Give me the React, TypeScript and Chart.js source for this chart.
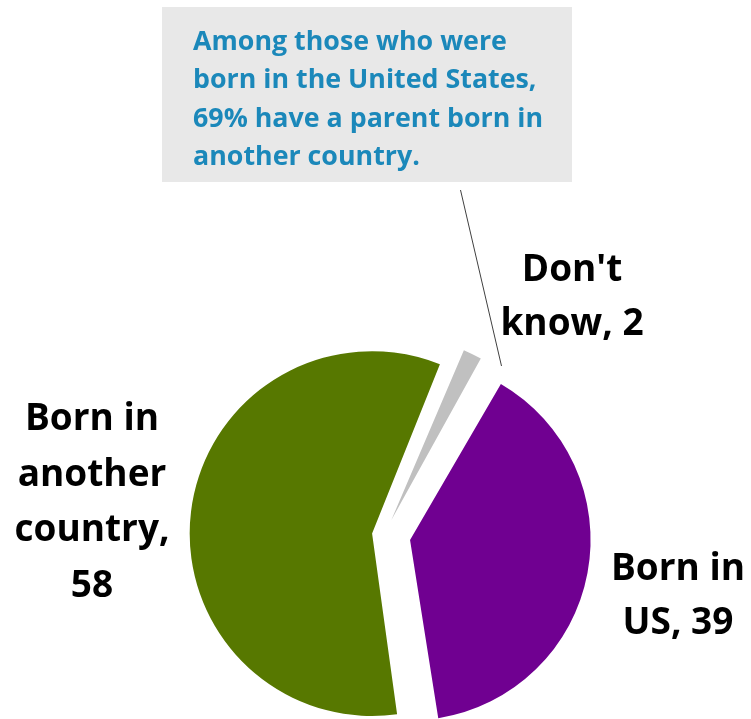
import React, { useEffect, useRef } from "react";
import { Chart, registerables } from "chart.js";

Chart.register(...registerables);

const categories = ["Born in US", "Born in another country", "Don't know"];
const values = [39, 58, 2];
const sliceColors = ["#700091", "#577800", "#c0c0c0"];
const sliceOffsets = [106, 48, 66];

const labelLines: string[][] = [
  ["Born in", `US, ${values[0]}`],
  ["Born in", "another", "country,", `${values[1]}`],
  ["Don't", `know, ${values[2]}`],
];

const noteLines = [
  "Among those who were",
  "born in the United States,",
  "69% have a parent born in",
  "another country.",
];

const FONT = "'Open Sans', Lato, sans-serif";

const overlayPlugin = {
  id: "overlay",
  afterDraw(chart: any) {
    const ctx: CanvasRenderingContext2D = chart.ctx;
    ctx.save();
    // callout box
    ctx.fillStyle = "#e8e8e8";
    ctx.fillRect(162, 7, 410, 175);
    ctx.fillStyle = "#1b88ba";
    ctx.font = `bold 26.8px ${FONT}`;
    ctx.textAlign = "left";
    ctx.textBaseline = "alphabetic";
    noteLines.forEach((l, i) => ctx.fillText(l, 193, 49.5 + i * 38.5));
    // leader line
    ctx.strokeStyle = "#404040";
    ctx.lineWidth = 1;
    ctx.beginPath();
    ctx.moveTo(460.5, 190);
    ctx.lineTo(501.5, 366);
    ctx.stroke();
    // data labels
    ctx.fillStyle = "#000000";
    ctx.font = `bold 37px ${FONT}`;
    ctx.textAlign = "center";
    const spots = [
      { x: 678, y: 580, lh: 54 },
      { x: 92, y: 430, lh: 55.5 },
      { x: 572, y: 281, lh: 54 },
    ];
    labelLines.forEach((lines, i) => {
      const s = spots[i];
      lines.forEach((t, j) => ctx.fillText(t, s.x, s.y + j * s.lh));
    });
    ctx.restore();
  },
};

export default function App() {
  const ref = useRef<HTMLCanvasElement | null>(null);
  useEffect(() => {
    if (!ref.current) return;
    const chart = new Chart(ref.current, {
      type: "pie",
      data: {
        labels: categories,
        datasets: [
          {
            data: values,
            backgroundColor: sliceColors,
            borderWidth: 0,
            offset: sliceOffsets,
            clip: false,
          } as any,
        ],
      },
      options: {
        responsive: false,
        animation: false,
        devicePixelRatio: 1,
        rotation: 29.7,
        radius: 170.4,
        layout: { padding: { left: 17, right: 0, top: 351, bottom: 0 } },
        plugins: {
          legend: { display: false },
          tooltip: { enabled: false },
        },
        events: [],
      } as any,
      plugins: [overlayPlugin],
    });
    return () => chart.destroy();
  }, []);
  return (
    <canvas
      ref={ref}
      width={751}
      height={719}
      style={{ position: "absolute", left: 0, top: 0, display: "block" }}
    />
  );
}
